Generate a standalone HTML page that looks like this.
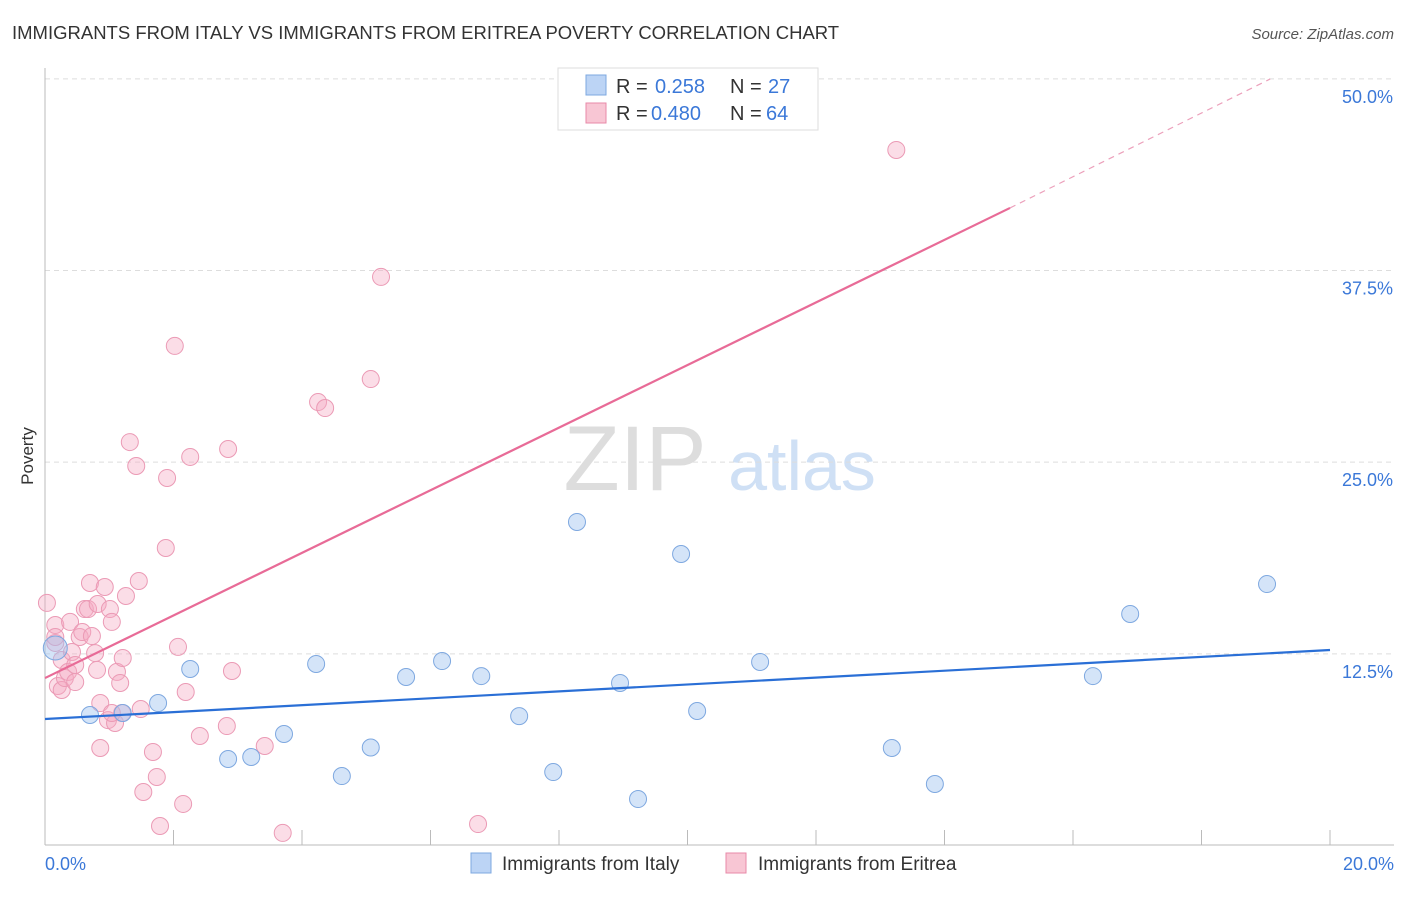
<!DOCTYPE html>
<html><head><meta charset="utf-8"><style>
body{margin:0;background:#fff;font-family:"Liberation Sans",sans-serif;}
svg text{font-family:"Liberation Sans",sans-serif;}
</style></head><body>
<svg id="chart" width="1406" height="892">
<text x="12" y="39" font-size="18.5" fill="#333">IMMIGRANTS FROM ITALY VS IMMIGRANTS FROM ERITREA POVERTY CORRELATION CHART</text>
<text x="1394" y="39" font-size="15" fill="#555" font-style="italic" text-anchor="end">Source: ZipAtlas.com</text>
<text transform="translate(33,456) rotate(-90)" font-size="17" fill="#333" text-anchor="middle">Poverty</text>
<g>
<text x="635" y="490" font-size="92" fill="#ddd" font-family="Liberation Serif" text-anchor="middle">ZIP</text>
<text x="802" y="490" font-size="70" fill="#cfe0f5" text-anchor="middle">atlas</text>
</g>
<g id="grid"></g>
<g id="marks"></g>
<g>
<rect x="558" y="68" width="260" height="62" fill="#fff" stroke="#ddd"/>
<rect x="586" y="75" width="20" height="20" fill="#bcd4f5" stroke="#7ea8e0"/>
<rect x="586" y="103" width="20" height="20" fill="#f8c6d4" stroke="#e88aa8"/>
<text x="616" y="93" font-size="20" fill="#333">R = </text><text x="655" y="93" font-size="20" fill="#3b78d8">0.258</text>
<text x="730" y="93" font-size="20" fill="#333">N = </text><text x="768" y="93" font-size="20" fill="#3b78d8">27</text>
<text x="616" y="120" font-size="20" fill="#333">R = </text><text x="651" y="120" font-size="20" fill="#3b78d8">0.480</text>
<text x="730" y="120" font-size="20" fill="#333">N = </text><text x="766" y="120" font-size="20" fill="#3b78d8">64</text>
</g>
<g>
<rect x="471" y="853" width="20" height="20" fill="#bcd4f5" stroke="#7ea8e0"/>
<text x="502" y="870" font-size="19" fill="#333">Immigrants from Italy</text>
<rect x="726" y="853" width="20" height="20" fill="#f8c6d4" stroke="#e88aa8"/>
<text x="758" y="870" font-size="19" fill="#333">Immigrants from Eritrea</text>
</g>
<text x="45" y="870" font-size="18" fill="#3b78d8">0.0%</text>
<text x="1394" y="870" font-size="18" fill="#3b78d8" text-anchor="end">20.0%</text>
</svg>
<script>
const yTicks=[12.5,25,37.5,50];
const yTickLabels=["12.5%","25.0%","37.5%","50.0%"];
const xTicks=[0,2,4,6,8,10,12,14,16,18,20];
const italyX=[0.70,1.21,1.76,2.26,2.85,3.21,3.72,4.22,4.62,5.07,5.62,6.18,6.79,7.38,7.91,8.28,8.95,9.23,9.90,10.15,11.13,13.18,13.85,16.31,16.89,19.02,0.16];
const italyY=[8.51,8.64,9.29,11.51,5.64,5.77,7.27,11.84,4.53,6.39,10.99,12.03,11.05,8.44,4.79,21.10,10.60,3.03,19.01,8.77,11.97,6.36,4.01,11.05,15.10,17.05,12.88];
const eritreaX=[0.03,0.16,0.16,0.16,0.20,0.26,0.26,0.31,0.36,0.39,0.42,0.47,0.47,0.54,0.58,0.62,0.67,0.70,0.73,0.78,0.81,0.82,0.86,0.86,0.93,0.98,1.01,1.04,1.09,1.12,1.17,1.21,1.26,1.32,1.42,1.46,1.49,1.53,1.68,1.74,1.79,1.88,1.90,2.02,2.07,2.15,2.19,2.26,2.41,2.83,2.85,2.91,3.42,3.70,4.25,4.36,5.07,5.23,6.74,13.25,1.20,1.04];
const eritreaY=[15.82,13.21,14.38,13.60,10.40,10.14,12.10,10.92,11.32,14.58,12.62,11.77,10.66,13.60,13.92,15.42,15.42,17.12,13.66,12.55,11.45,15.75,6.36,9.29,16.86,8.18,15.42,14.58,7.99,11.32,10.60,12.23,16.27,26.31,24.75,17.25,8.90,3.49,6.10,4.47,1.27,19.40,23.97,32.58,12.95,2.71,10.01,25.34,7.14,7.79,25.86,11.38,6.49,0.82,28.92,28.53,30.42,37.08,1.40,45.36,8.64,8.64];
const italyLine=[[0,8.25],[20,12.75]];
const eritreaSolid=[[0,10.92],[15.02,41.58]];
const eritreaDash=[[15.02,41.58],[19.07,49.99]];
const NS="http://www.w3.org/2000/svg";
const sx=v=>45+v/20*1285;
const sy=v=>845.5-v/12.5*191.67;
function mk(tag,attrs,parent){const e=document.createElementNS(NS,tag);for(const k in attrs)e.setAttribute(k,attrs[k]);parent.appendChild(e);return e;}
const grid=document.getElementById('grid'),marks=document.getElementById('marks');
yTicks.forEach((t,i)=>{
 const l=mk('line',{x1:45,x2:1394,y1:sy(t),y2:sy(t),stroke:'#ddd','stroke-dasharray':'5,4'},grid);
 
 
 const tx=mk('text',{x:1393,y:sy(t)+24,'font-size':18,fill:'#3b78d8','text-anchor':'end'},grid);
 tx.textContent=yTickLabels[i];
 
 
});
const ax=mk('line',{x1:45,x2:45,y1:68,y2:845,stroke:'#bbb'},grid);


const bx=mk('line',{x1:45,x2:1394,y1:845,y2:845,stroke:'#bbb'},grid);


xTicks.forEach(t=>{
 const l=mk('line',{x1:sx(t),x2:sx(t),y1:830,y2:845,stroke:'#bbb'},grid);
 
 
});
eritreaX.forEach((x,i)=>{
 const c=mk('circle',{cx:sx(x),cy:sy(eritreaY[i]),r:8.5,fill:'rgba(244,170,195,0.4)',stroke:'#eb9ab5','stroke-width':1},marks);
 
 
});
italyX.forEach((x,i)=>{
 const c=mk('circle',{cx:sx(x),cy:sy(italyY[i]),r:i==26?12:8.5,fill:'rgba(160,195,240,0.45)',stroke:'#7ea8e0','stroke-width':1},marks);
 
 
});
function line(p,attrs,name){
 const l=mk('line',Object.assign({x1:sx(p[0][0]),y1:sy(p[0][1]),x2:sx(p[1][0]),y2:sy(p[1][1])},attrs),marks);
 
 
}
line(italyLine,{stroke:'#2a6fd6','stroke-width':2.2},'italy-trend-line');
line(eritreaSolid,{stroke:'#e86b97','stroke-width':2.2},'eritrea-trend-line');
line(eritreaDash,{stroke:'#eca0bb','stroke-width':1.2,'stroke-dasharray':'6,5'},'eritrea-trend-extension');
</script>
</body></html>
